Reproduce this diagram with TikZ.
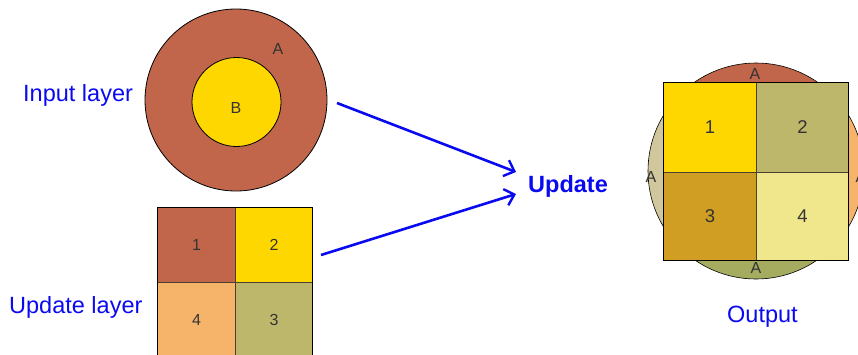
\documentclass[tikz,border=0pt]{standalone}
\usepackage{fontspec}
\setmainfont{Liberation Sans}
\usetikzlibrary{arrows.meta}
\definecolor{rust}{HTML}{C1654B}
\definecolor{gold}{HTML}{FFD700}
\definecolor{sand}{HTML}{F5B469}
\definecolor{olivekhaki}{HTML}{BDB76B}
\definecolor{ochre}{HTML}{D09E22}
\definecolor{paleyellow}{HTML}{F0E68C}
\definecolor{tan}{HTML}{D0C89C}
\definecolor{moss}{HTML}{A6AC5F}
\definecolor{labelblue}{HTML}{0A0AF0}
\definecolor{edge}{HTML}{4A4030}
\tikzset{
  region/.style={draw=black, line width=0.8pt},
  cell/.style={draw=edge, line width=1pt},
  tag/.style={font=\fontsize{16}{18}\selectfont, text=black!80},
  bigtag/.style={font=\fontsize{18.5}{20}\selectfont, text=black!80},
  caption/.style={font=\fontsize{23.5}{27}\selectfont, text=labelblue, anchor=base west, inner sep=0pt},
  flow/.style={draw=labelblue, line width=2.6pt, -{Straight Barb[length=9pt,width=17pt,line width=2.4pt]}}
}
\begin{document}
\begin{tikzpicture}[x=1pt,y=-1pt]
\useasboundingbox (0,0) rectangle (858,354);
\clip (0,0) rectangle (858,354);

% input layer: ring A around disc B
\node[circle, region, fill=rust, minimum size=182pt, inner sep=0pt] (inA) at (236,100) {};
\node[circle, region, fill=gold, minimum size=89pt, inner sep=0pt] (inB) at (236.5,102) {};
\node[tag] (labA) at (278,49) {A};
\node[tag] (labB) at (236,108) {B};
\node[caption] (inCap) at (23,101) {Input layer};

% update layer: 2x2 grid of polygons
\node[cell, fill=rust, minimum width=78pt, minimum height=75pt, inner sep=0pt, anchor=north west] (u1) at (157,207) {};
\node[cell, fill=gold, minimum width=77pt, minimum height=75pt, inner sep=0pt, anchor=north west] (u2) at (235,207) {};
\node[cell, fill=sand, minimum width=78pt, minimum height=75pt, inner sep=0pt, anchor=north west] (u4) at (157,282) {};
\node[cell, fill=olivekhaki, minimum width=77pt, minimum height=75pt, inner sep=0pt, anchor=north west] (u3) at (235,282) {};
\draw[line width=0.8pt] (157,207) rectangle (312,360);
\node[tag] at (u1) {1};
\node[tag] at (u2) {2};
\node[tag] at (u4) {4};
\node[tag] at (u3) {3};
\node[caption] (upCap) at (9,313) {Update layer};

% operation
\node[font=\bfseries\fontsize{23.5}{27}\selectfont, text=labelblue, anchor=base west, inner sep=0pt] (upd) at (528,192) {Update};
\coordinate (tailA) at (337,103);
\coordinate (tailB) at (321,255);
\coordinate (headA) at (516,172);
\coordinate (headB) at (516,194);
\draw[flow] (tailA) -- (headA);
\draw[flow] (tailB) -- (headB);

% output: remnants of A around the four updated cells
\coordinate (oc) at (756,171);
\begin{scope}
  \clip (600,0) rectangle (900,82);
  \fill[rust] (oc) circle[radius=108];
\end{scope}
\begin{scope}
  \clip (600,260) rectangle (900,354);
  \fill[moss] (oc) circle[radius=108];
\end{scope}
\begin{scope}
  \clip (600,82) rectangle (663,260);
  \fill[tan] (oc) circle[radius=108];
\end{scope}
\begin{scope}
  \clip (848,82) rectangle (900,260);
  \fill[sand] (oc) circle[radius=108];
\end{scope}
\draw[line width=0.6pt] (oc) circle[radius=108];
\node[cell, fill=gold, minimum width=93pt, minimum height=90pt, inner sep=0pt, anchor=north west] (o1) at (663,82) {};
\node[cell, fill=olivekhaki, minimum width=92pt, minimum height=90pt, inner sep=0pt, anchor=north west] (o2) at (756,82) {};
\node[cell, fill=ochre, minimum width=93pt, minimum height=88pt, inner sep=0pt, anchor=north west] (o3) at (663,172) {};
\node[cell, fill=paleyellow, minimum width=92pt, minimum height=88pt, inner sep=0pt, anchor=north west] (o4) at (756,172) {};
\draw[line width=0.8pt] (663,82) rectangle (848,260);
\node[bigtag] at (o1) {1};
\node[bigtag] at (o2) {2};
\node[bigtag] at (o3) {3};
\node[bigtag] at (o4) {4};
\node[tag] (oA1) at (755,74) {A};
\node[tag] (oA2) at (651,177) {A};
\node[tag] (oA3) at (861,177) {A};
\node[tag] (oA4) at (756,268) {A};
\node[caption] (outCap) at (727,322) {Output};
\end{tikzpicture}
\end{document}
